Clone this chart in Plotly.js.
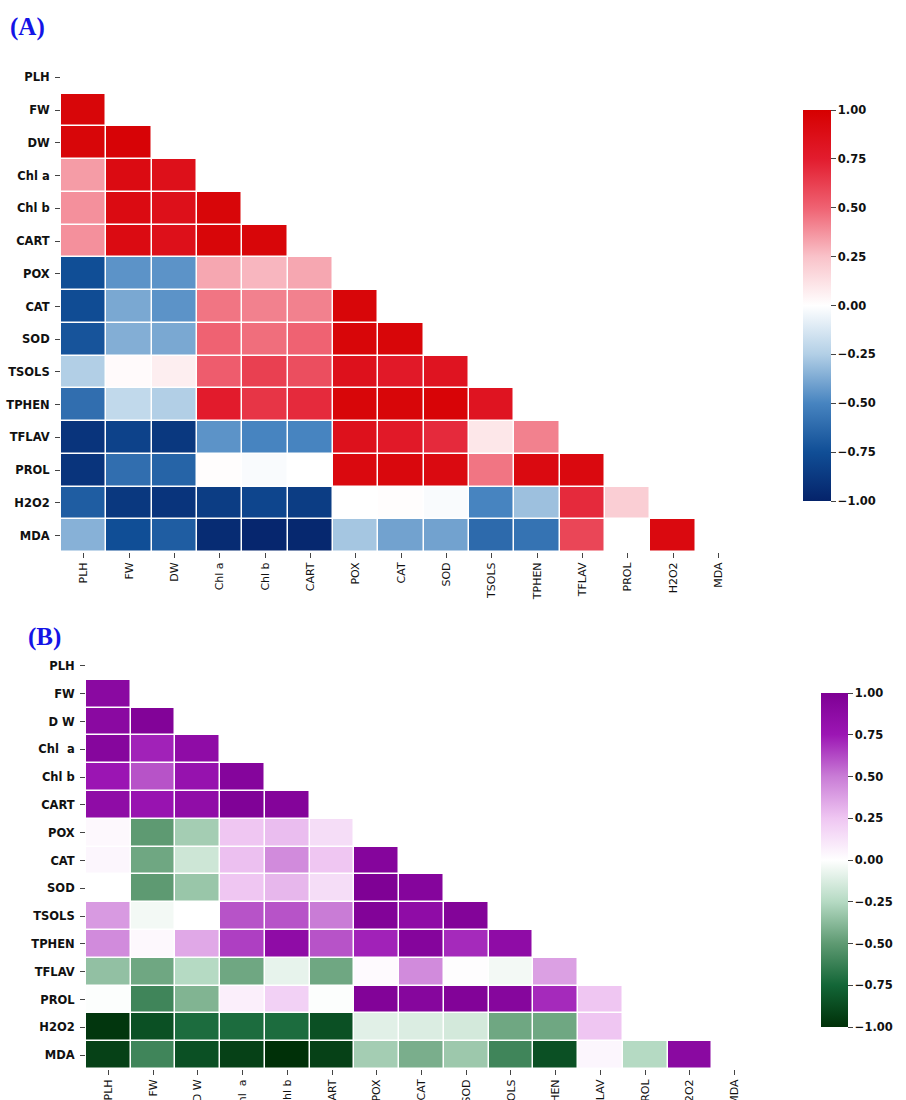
<!DOCTYPE html>
<html>
<head>
<meta charset="utf-8">
<script src="https://cdn.plot.ly/plotly-3.0.1.min.js"></script>
<style>
  html, body { margin: 0; padding: 0; background: #fff; }
  #chart { width: 906px; height: 1100px; }
</style>
</head>
<body>
<div id="chart"></div>
<script>
// Trait names (rows and columns of both correlation matrices)
const traitsA = ["PLH", "FW", "DW", "Chl a", "Chl b", "CART", "POX", "CAT", "SOD",
                 "TSOLS", "TPHEN", "TFLAV", "PROL", "H2O2", "MDA"];
const traitsB = ["PLH", "FW", "D W", "Chl\u00a0\u00a0a", "Chl b", "CART", "POX", "CAT", "SOD",
                 "TSOLS", "TPHEN", "TFLAV", "PROL", "H2O2", "MDA"];

// Lower-triangle Pearson coefficients, panel A (row i holds columns 0..i-1)
const corrA = [
  [],
  [0.95],
  [0.95, 0.97],
  [0.35, 0.90, 0.86],
  [0.38, 0.90, 0.86, 0.95],
  [0.38, 0.90, 0.86, 0.95, 0.95],
  [-0.75, -0.45, -0.45, 0.32, 0.28, 0.32],
  [-0.76, -0.38, -0.45, 0.45, 0.42, 0.42, 0.95],
  [-0.72, -0.36, -0.38, 0.50, 0.47, 0.50, 0.95, 0.95],
  [-0.25, 0.02, 0.07, 0.52, 0.62, 0.57, 0.85, 0.78, 0.82],
  [-0.60, -0.20, -0.25, 0.76, 0.66, 0.70, 0.95, 0.95, 0.96, 0.82],
  [-0.90, -0.82, -0.88, -0.45, -0.50, -0.50, 0.85, 0.78, 0.70, 0.10, 0.42],
  [-0.90, -0.60, -0.65, 0.01, -0.02, 0.00, 0.92, 0.93, 0.91, 0.45, 0.91, 0.92],
  [-0.68, -0.88, -0.90, -0.85, -0.80, -0.85, 0.00, 0.01, -0.02, -0.50, -0.30, 0.70, 0.20],
  [-0.35, -0.75, -0.68, -0.95, -0.98, -0.97, -0.28, -0.40, -0.40, -0.62, -0.58, 0.60, 0.00, 0.92]
];

// Lower-triangle Pearson coefficients, panel B
const corrB = [
  [],
  [0.90],
  [0.90, 0.97],
  [0.93, 0.72, 0.86],
  [0.76, 0.60, 0.80, 0.94],
  [0.86, 0.78, 0.85, 0.98, 0.95],
  [0.03, -0.50, -0.30, 0.25, 0.28, 0.15],
  [0.04, -0.45, -0.17, 0.27, 0.45, 0.25, 0.94],
  [0.00, -0.50, -0.33, 0.25, 0.30, 0.15, 0.99, 0.94],
  [0.40, -0.04, 0.00, 0.60, 0.60, 0.50, 0.97, 0.86, 0.96],
  [0.45, 0.03, 0.35, 0.65, 0.86, 0.60, 0.72, 0.94, 0.70, 0.86],
  [-0.35, -0.45, -0.25, -0.45, -0.08, -0.45, 0.02, 0.45, 0.01, -0.04, 0.38],
  [-0.01, -0.60, -0.40, 0.07, 0.20, -0.01, 0.97, 0.93, 0.97, 0.93, 0.70, 0.25],
  [-0.97, -0.85, -0.72, -0.72, -0.72, -0.85, -0.10, -0.12, -0.15, -0.45, -0.45, 0.25, 0.00],
  [-0.92, -0.60, -0.85, -0.92, -1.00, -0.92, -0.30, -0.42, -0.32, -0.60, -0.85, 0.04, -0.25, 0.90]
];

// Colour bar tick labels
const cbarTickVals = [-1, -0.75, -0.5, -0.25, 0, 0.25, 0.5, 0.75, 1];
const cbarTickText = ["\u22121.00", "\u22120.75", "\u22120.50", "\u22120.25", "0.00", "0.25", "0.50", "0.75", "1.00"];

const W = 906, H = 1100;

// Expand a lower triangle into a full square matrix, blanking the upper part
function squareMatrix(tri) {
  const n = tri.length;
  return tri.map(row => {
    const out = new Array(n).fill(null);
    row.forEach((v, j) => { out[j] = v; });
    return out;
  });
}

const scaleRedBlue = [
  [0.000, "#05236a"], [0.125, "#104e96"], [0.250, "#4784c0"], [0.375, "#b2cfe6"],
  [0.500, "#ffffff"], [0.625, "#f9c2c9"], [0.750, "#ef6272"], [0.875, "#e21c2e"],
  [1.000, "#d60000"]
];
const scalePurpleGreen = [
  [0.000, "#003008"], [0.125, "#136637"], [0.250, "#5e9a72"], [0.375, "#b5dac3"],
  [0.500, "#ffffff"], [0.625, "#efc6f2"], [0.750, "#c97cd6"], [0.875, "#9c16b4"],
  [1.000, "#7e0094"]
];

// Pixel boxes for the two heatmaps and colour bars
const boxA = { x0: 61, x1: 741, y0: 61, y1: 552 };
const boxB = { x0: 86, x1: 757, y0: 652, y1: 1069 };
const cbA = { x: 803, y0: 110, y1: 501, w: 28 };
const cbB = { x: 821, y0: 693, y1: 1027, w: 27 };

const sans = "DejaVu Sans, Verdana, sans-serif";

function colorbar(cb) {
  return {
    x: cb.x / W, xanchor: "left", xpad: 0,
    y: 1 - cb.y0 / H, yanchor: "top", ypad: 0,
    len: (cb.y1 - cb.y0) / H, lenmode: "fraction",
    thickness: cb.w, thicknessmode: "pixels",
    outlinewidth: 0,
    tickmode: "array", tickvals: cbarTickVals, ticktext: cbarTickText,
    ticks: "outside", ticklen: 5, tickwidth: 1, tickcolor: "#444",
    tickfont: { family: sans, size: 11.5, color: "#111", weight: "bold" }
  };
}

const idx = traitsA.map((_, i) => i);

const traces = [
  {
    type: "heatmap", x: idx, y: idx, z: squareMatrix(corrA),
    xaxis: "x", yaxis: "y",
    zmin: -1, zmax: 1, colorscale: scaleRedBlue,
    xgap: 1.5, ygap: 1.5, hoverongaps: false,
    colorbar: colorbar(cbA)
  },
  {
    type: "heatmap", x: idx, y: idx, z: squareMatrix(corrB),
    xaxis: "x2", yaxis: "y2",
    zmin: -1, zmax: 1, colorscale: scalePurpleGreen,
    xgap: 1.5, ygap: 1.5, hoverongaps: false,
    colorbar: colorbar(cbB)
  }
];

const tickFontX = { family: sans, size: 11, color: "#111" };
const tickFontY = { family: sans, size: 11.5, color: "#111", weight: "bold" };

function xAxis(box, labels, anchor) {
  return {
    domain: [box.x0 / W, box.x1 / W], anchor: anchor,
    range: [-0.5, labels.length - 0.5],
    tickmode: "array", tickvals: idx, ticktext: labels,
    tickangle: -90, ticks: "outside", ticklen: 5, tickcolor: "#444",
    tickfont: tickFontX, showgrid: false, zeroline: false, showline: false,
    automargin: false, fixedrange: true
  };
}
function yAxis(box, labels, anchor) {
  return {
    domain: [1 - box.y1 / H, 1 - box.y0 / H], anchor: anchor,
    range: [labels.length - 0.5, -0.5],
    tickmode: "array", tickvals: idx, ticktext: labels,
    ticks: "outside", ticklen: 5, tickcolor: "#444", ticklabelstandoff: 3,
    tickfont: tickFontY, showgrid: false, zeroline: false, showline: false,
    automargin: false, fixedrange: true
  };
}

const layout = {
  width: W, height: H,
  margin: { l: 0, r: 0, t: 0, b: 0 },
  paper_bgcolor: "#ffffff", plot_bgcolor: "#ffffff",
  showlegend: false,
  xaxis: xAxis(boxA, traitsA, "y"),
  yaxis: yAxis(boxA, traitsA, "x"),
  xaxis2: xAxis(boxB, traitsB, "y2"),
  yaxis2: yAxis(boxB, traitsB, "x2"),
  annotations: [
    { text: "<b>(A)</b>", xref: "paper", yref: "paper", x: 8 / W, y: 1 - 27 / H,
      xanchor: "left", yanchor: "middle", showarrow: false,
      font: { family: "Liberation Serif, Times New Roman, serif", size: 25, color: "#1414e6" } },
    { text: "<b>(B)</b>", xref: "paper", yref: "paper", x: 26 / W, y: 1 - 637 / H,
      xanchor: "left", yanchor: "middle", showarrow: false,
      font: { family: "Liberation Serif, Times New Roman, serif", size: 25, color: "#1414e6" } }
  ]
};

Plotly.newPlot("chart", traces, layout, { staticPlot: true, displayModeBar: false });
</script>
</body>
</html>
